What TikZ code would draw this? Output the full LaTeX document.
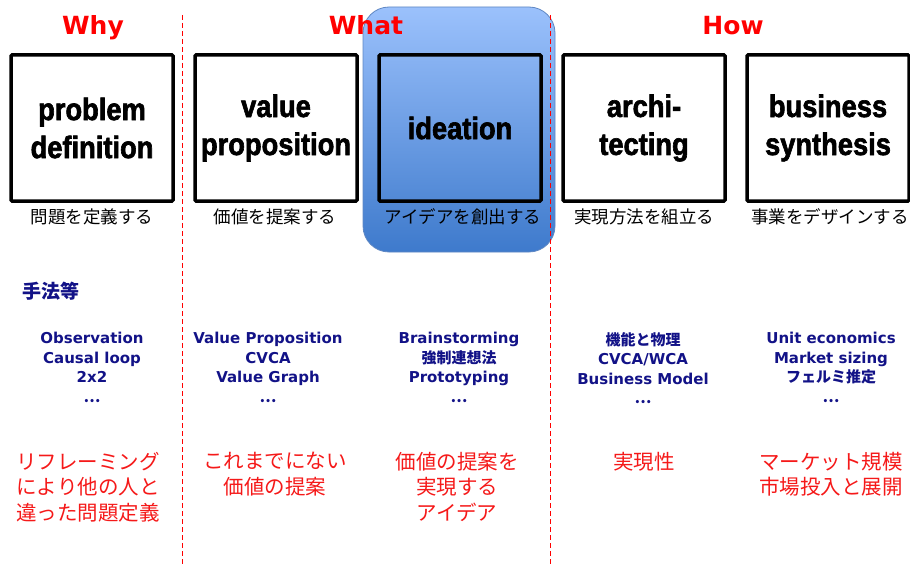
\documentclass[tikz,border=0pt]{standalone}
\usepackage{fontspec}
\setmainfont{DejaVu Sans}
\newfontfamily\jpfont{Noto Sans CJK JP}
\newfontfamily\boxfont[FakeStretch=0.88,FakeBold=2]{Liberation Sans}
\definecolor{headred}{RGB}{255,0,0}
\definecolor{methodblue}{RGB}{18,18,135}
\definecolor{notered}{RGB}{245,25,25}
\definecolor{hltop}{RGB}{155,193,252}
\definecolor{hlbottom}{RGB}{62,122,204}
\definecolor{hlborder}{RGB}{95,135,195}
\begin{document}
\begin{tikzpicture}[x=1pt,y=-1pt,
    phase/.style={draw=black,line width=3.5pt,rounded corners=1pt,minimum width=162pt,minimum height=146pt,
      align=center,inner sep=0pt,font=\boxfont\bfseries\fontsize{31}{38}\selectfont},
    head/.style={text=headred,anchor=base,font=\bfseries\fontsize{25}{30}\selectfont},
    sub/.style={text=black,inner sep=0pt,font=\jpfont\fontsize{17.5}{20}\selectfont},
    method/.style={text=methodblue,anchor=north,align=center,inner sep=0pt,font=\bfseries\fontsize{15}{19.5}\selectfont},
    note/.style={text=notered,anchor=north,align=center,inner sep=0pt,font=\jpfont\fontsize{20.5}{25.5}\selectfont}]
  \useasboundingbox (0,0) rectangle (910,567);
  \shade[top color=hltop,bottom color=hlbottom,rounded corners=26pt] (363,7) rectangle (555,252);
  \draw[hlborder,line width=0.8pt,rounded corners=26pt] (363,7) rectangle (555,252);
  \foreach \x in {182,550} {
      \draw[headred,dash pattern=on 5pt off 3pt,line width=1pt] (\x,15) -- (\x,567);
    }
  \node[head] (why) at (93,35) {Why};
  \node[head] (what) at (366,35) {What};
  \node[head] (how) at (733,35) {How};
  \node[phase] (problem) at (92,128) {problem\\definition};
  \node[phase] (value) at (276,128) {value\\proposition};
  \node[phase] (ideation) at (460,128) {ideation};
  \node[phase] (archi) at (644,128) {archi-\\tecting};
  \node[phase] (business) at (828,128) {business\\synthesis};
  \node[sub] (problemsub) at (92,217) {問題を定義する};
  \node[sub] (valuesub) at (275,217) {価値を提案する};
  \node[sub] (ideationsub) at (463,217) {アイデアを創出する};
  \node[sub] (archisub) at (644,217) {実現方法を組立る};
  \node[sub] (businesssub) at (830,217) {事業をデザインする};
  \node[text=methodblue,inner sep=0pt,font=\jpfont\bfseries\fontsize{19}{22}\selectfont] (methods) at (51,291) {手法等};
  \node[method] (problemm) at (92,332) {Observation\\Causal loop\\2x2\\{\jpfont …}};
  \node[method] (valuem) at (268,332) {Value Proposition\\CVCA\\Value Graph\\{\jpfont …}};
  \node[method] (ideationm) at (459,332) {Brainstorming\\{\jpfont 強制連想法}\\Prototyping\\{\jpfont …}};
  \node[method] (archim) at (643,332) {{\jpfont 機能と物理}\\CVCA/WCA\\Business Model\\{\jpfont …}};
  \node[method] (businessm) at (831,332) {Unit economics\\Market sizing\\{\jpfont フェルミ推定}\\{\jpfont …}};
  \node[note] (problemn) at (88,452) {リフレーミング\\により他の人と\\違った問題定義};
  \node[note] (valuen) at (275,452) {これまでにない\\価値の提案};
  \node[note] (ideationn) at (457,452) {価値の提案を\\実現する\\アイデア};
  \node[note] (archin) at (644,452) {実現性};
  \node[note] (businessn) at (831,452) {マーケット規模\\市場投入と展開};
\end{tikzpicture}
\end{document}
